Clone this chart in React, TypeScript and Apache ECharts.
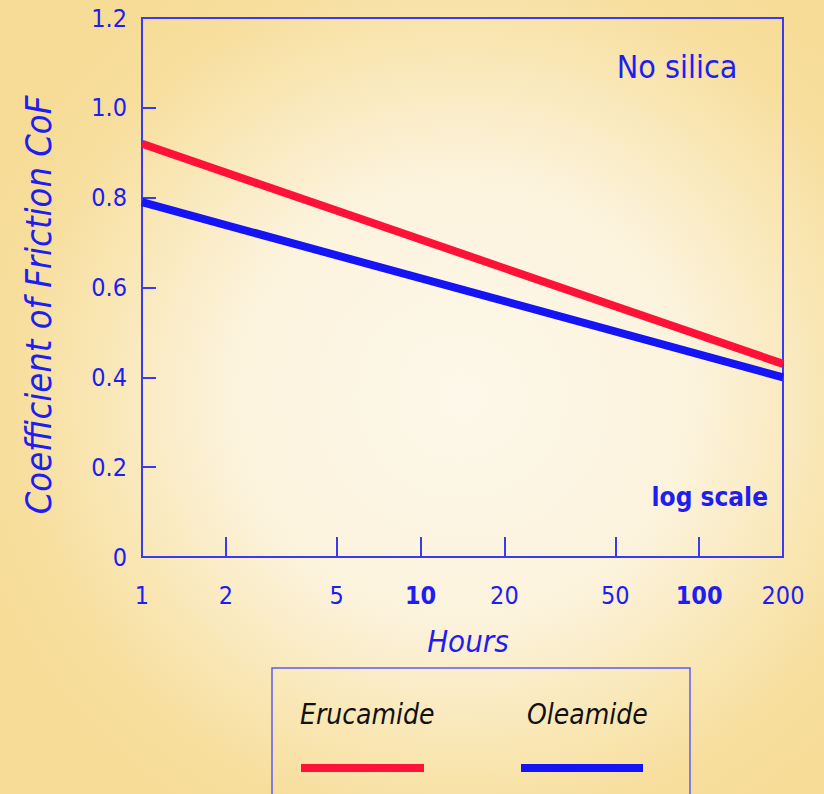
import React, { useEffect, useRef } from "react";
import * as echarts from "echarts";

// ---- data ----
const hours = [1, 200];
const erucamide = [0.92, 0.43];
const oleamide = [0.79, 0.40];
const xTickHours = [1, 2, 5, 10, 20, 50, 100, 200];
const xBoldTicks = [10, 100];
const yTicks = [0, 0.2, 0.4, 0.6, 0.8, 1.0, 1.2];
const seriesNames = ["Erucamide", "Oleamide"];

const BLUE = "#1e1ef0";
const AXIS = "#3a3af0";
const RED = "#ff1238";
const LINEBLUE = "#1414f4";
const FONT = "'DejaVu Sans Condensed', 'DejaVu Sans', sans-serif";

export default function App() {
  const ref = useRef<HTMLDivElement>(null);
  useEffect(() => {
    document.body.style.margin = "0";
    const chart = echarts.init(ref.current!, null, { renderer: "svg" });
    const toX = (h: number) => Math.log10(h);
    const option: any = {
      animation: false,
      backgroundColor: {
        type: "radial",
        x: 0.56,
        y: 0.5,
        r: 0.62,
        colorStops: [
          { offset: 0, color: "#fdf8ea" },
          { offset: 0.45, color: "#fcf3dd" },
          { offset: 0.72, color: "#f9e6b3" },
          { offset: 0.88, color: "#f7de9d" },
          { offset: 1, color: "#f7dc98" },
        ],
      },
      grid: {
        left: 142,
        top: 18,
        right: 41,
        bottom: 237,
        show: true,
        borderColor: AXIS,
        borderWidth: 2,
        backgroundColor: "transparent",
      },
      xAxis: {
        type: "value",
        min: 0,
        max: toX(200),
        splitLine: { show: false },
        axisLine: { show: true, lineStyle: { color: AXIS, width: 2 } },
        axisTick: {
          show: true,
          inside: true,
          length: 20,
          customValues: xTickHours.map(toX),
          lineStyle: { color: AXIS, width: 2 },
        },
        axisLabel: {
          customValues: xTickHours.map(toX),
          margin: 26,
          color: BLUE,
          fontFamily: FONT,
          fontSize: 25,
          formatter: (v: number) => {
            let best = xTickHours[0];
            for (const h of xTickHours) {
              if (Math.abs(toX(h) - v) < Math.abs(toX(best) - v)) best = h;
            }
            return xBoldTicks.includes(best) ? `{b|${best}}` : `${best}`;
          },
          rich: {
            b: { fontWeight: "bold", color: BLUE, fontFamily: FONT, fontSize: 25 },
          },
        },
      },
      yAxis: {
        type: "value",
        min: yTicks[0],
        max: yTicks[yTicks.length - 1],
        interval: 0.2,
        splitLine: { show: false },
        axisLine: { show: true, lineStyle: { color: AXIS, width: 2 } },
        axisTick: { show: true, inside: true, length: 14, lineStyle: { color: AXIS, width: 2 } },
        axisLabel: {
          margin: 15,
          color: BLUE,
          fontFamily: FONT,
          fontSize: 25,
          formatter: (v: number) => (v === 0 ? "0" : v.toFixed(1)),
        },
      },
      series: [
        {
          name: seriesNames[0],
          type: "line",
          data: hours.map((h, i) => [toX(h), erucamide[i]]),
          showSymbol: false,
          lineStyle: { color: RED, width: 8 },
          z: 3,
        },
        {
          name: seriesNames[1],
          type: "line",
          data: hours.map((h, i) => [toX(h), oleamide[i]]),
          showSymbol: false,
          lineStyle: { color: LINEBLUE, width: 8 },
          z: 3,
        },
      ],
      graphic: [
        {
          type: "text",
          x: 38,
          y: 305,
          rotation: Math.PI / 2,
          style: {
            text: "Coefficient of Friction CoF",
            fill: BLUE,
            font: `italic 36px ${FONT}`,
            align: "center",
            verticalAlign: "middle",
          },
        },
        {
          type: "text",
          x: 468,
          y: 641,
          style: {
            text: "Hours",
            fill: BLUE,
            font: `italic 31px ${FONT}`,
            align: "center",
            verticalAlign: "middle",
          },
        },
        {
          type: "text",
          x: 677,
          y: 67,
          style: {
            text: "No silica",
            fill: BLUE,
            font: `32px ${FONT}`,
            align: "center",
            verticalAlign: "middle",
          },
        },
        {
          type: "text",
          x: 768,
          y: 497,
          style: {
            text: "log scale",
            fill: BLUE,
            font: `bold 26px ${FONT}`,
            align: "right",
            verticalAlign: "middle",
          },
        },
        {
          type: "rect",
          shape: { x: 272, y: 668, width: 418, height: 140 },
          style: { fill: "transparent", stroke: "#5c5cf0", lineWidth: 1.5 },
        },
        {
          type: "text",
          x: 300,
          y: 714,
          style: {
            text: seriesNames[0],
            fill: "#111111",
            font: `italic 28px ${FONT}`,
            align: "left",
            verticalAlign: "middle",
          },
        },
        {
          type: "text",
          x: 527,
          y: 714,
          style: {
            text: seriesNames[1],
            fill: "#111111",
            font: `italic 28px ${FONT}`,
            align: "left",
            verticalAlign: "middle",
          },
        },
        {
          type: "line",
          shape: { x1: 301, y1: 768, x2: 424, y2: 768 },
          style: { stroke: RED, lineWidth: 8 },
        },
        {
          type: "line",
          shape: { x1: 521, y1: 768, x2: 643, y2: 768 },
          style: { stroke: LINEBLUE, lineWidth: 8 },
        },
      ],
    };
    chart.setOption(option);
    return () => chart.dispose();
  }, []);
  return <div ref={ref} style={{ width: 824, height: 794 }} />;
}
